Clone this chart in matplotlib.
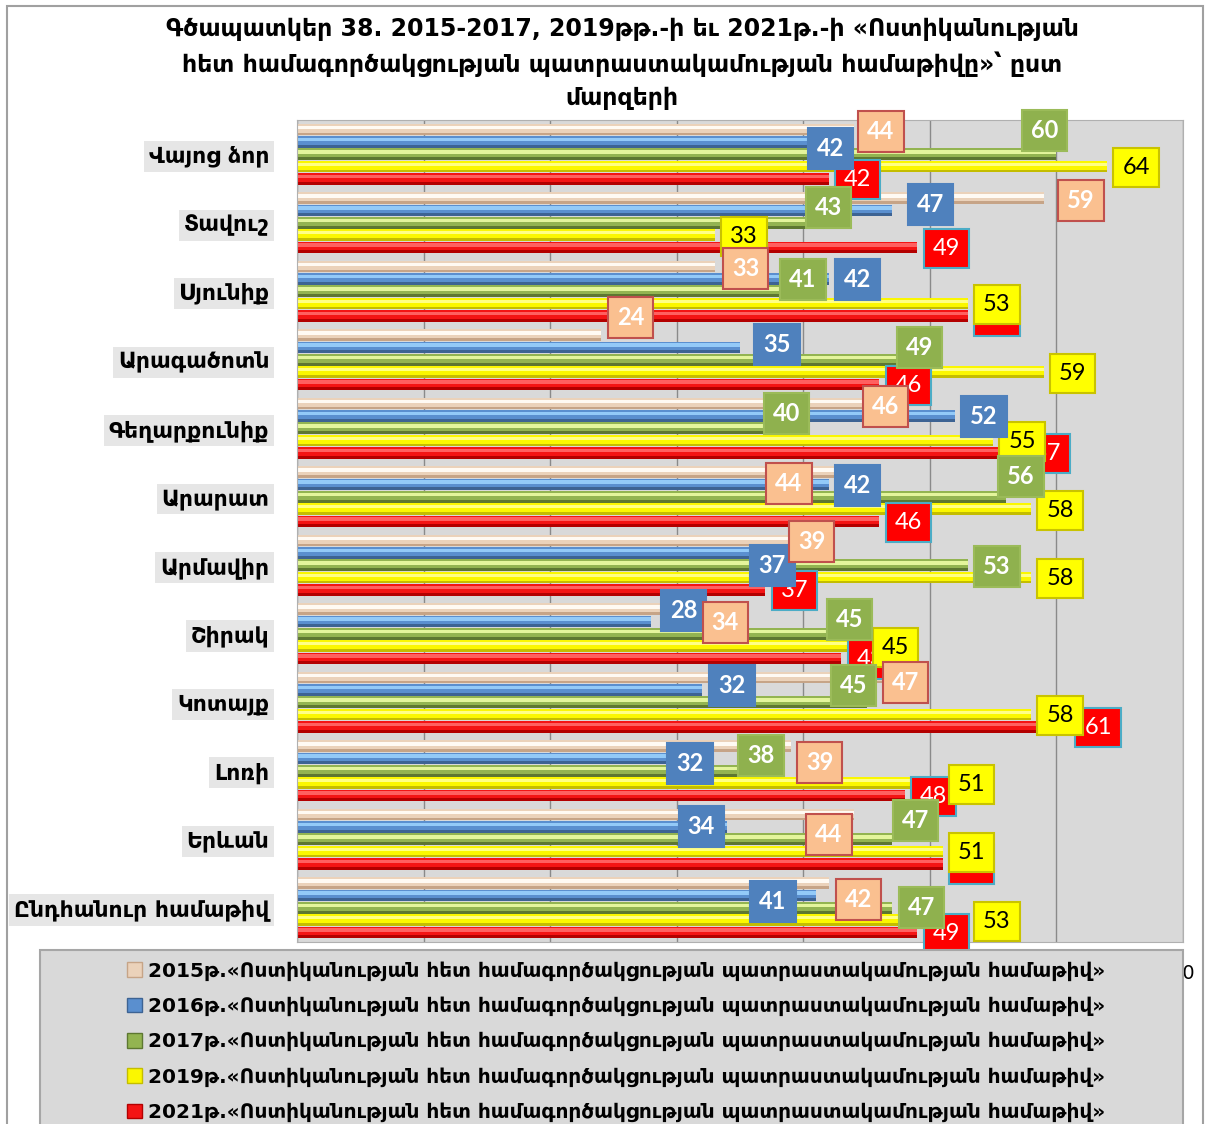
import matplotlib
matplotlib.use('Agg')
import matplotlib.pyplot as plt
from matplotlib.patches import Rectangle, Patch
import numpy as np

plt.rcParams['font.family'] = ['DejaVu Sans']

regions = ['Վայոց ձոր', 'Տավուշ', 'Սյունիք', 'Արագածոտն', 'Գեղարքունիք', 'Արարատ',
           'Արմավիր', 'Շիրակ', 'Կոտայք', 'Լոռի', 'Երևան', 'Ընդհանուր համաթիվ']
years = ['2015', '2016', '2017', '2019', '2021']

v2015 = [44, 59, 33, 24, 46, 44, 39, 34, 47, 39, 44, 42]
v2016 = [42, 47, 42, 35, 52, 42, 37, 28, 32, 32, 34, 41]
v2017 = [60, 43, 41, 49, 40, 56, 53, 45, 45, 38, 47, 47]
v2019 = [64, 33, 53, 59, 55, 58, 58, 45, 58, 51, 51, 53]
v2021 = [42, 49, 53, 46, 57, 46, 37, 43, 61, 48, 51, 49]
series = [v2015, v2016, v2017, v2019, v2021]

title_lines = ['Գծապատկեր 38. 2015-2017, 2019թթ.-ի եւ 2021թ.-ի «Ոստիկանության',
               'հետ համագործակցության պատրաստակամության համաթիվը»՝ ըստ',
               'մարզերի']
legend_text = 'թ.«Ոստիկանության հետ համագործակցության պատրաստակամության համաթիվ»'

# bevel colours per series: (shadow, body, highlight)
bar_colors = [('#c6a487', '#ebd2ba', '#fffaf3'),
              ('#3d6393', '#5a8fcf', '#93caf8'),
              ('#5d7731', '#93b451', '#e4f59c'),
              ('#c4bd00', '#fbf700', '#ffff86'),
              ('#b30000', '#f41414', '#ff6060')]
# value label boxes: (face, edge, text colour, weight)
label_style = [('#fac090', '#c0504d', 'white', 'bold'),
               ('#4f81bd', '#4f81bd', 'white', 'bold'),
               ('#8fb14e', '#9bbb59', 'white', 'bold'),
               ('#ffff00', '#c9c300', 'black', 'normal'),
               ('#ff0000', '#4bacc6', 'white', 'normal')]
label_z = [9, 8, 7, 6, 5]

# hand-moved value labels (pixels right / down from the bar end)
nudges = {(0, 0): (27, 2), (0, 1): (2, 7), (0, 2): (-12, -24),
          (1, 0): (37, 2), (1, 1): (39, -6), (1, 2): (-13, -15),
          (2, 0): (31, 2), (2, 2): (-13, -12),
          (3, 0): (30, -18), (3, 1): (37, -3), (3, 2): (2, -12),
          (4, 0): (6, 3), (4, 2): (-17, -15),
          (5, 0): (-65, 11), (5, 2): (15, -20),
          (6, 0): (21, 1), (6, 1): (7, 13),
          (7, 0): (-2, 13), (7, 1): (32, -11), (7, 2): (-17, -14),
          (8, 0): (14, 5), (8, 1): (30, -4), (8, 2): (-13, -17),
          (9, 0): (29, 16), (9, 1): (-12, 5), (9, 2): (-17, -15),
          (10, 0): (-25, 20), (10, 1): (-26, 0), (10, 2): (24, -19),
          (11, 0): (30, 16), (11, 1): (-43, 6), (11, 2): (30, 0)}

W, H = 1211, 1124
fig = plt.figure(figsize=(W / 100, H / 100), dpi=100)
ax = fig.add_axes([297 / W, 1 - 942 / H, 886 / W, 822 / H])
ax.set_facecolor('#d9d9d9')

y = np.arange(len(regions))
step = 0.18
h = 0.17
for s, vals in enumerate(series):
    yy = y + (s - 2) * step
    dark, body, light = bar_colors[s]
    ax.barh(yy, vals, height=h, color=dark, zorder=2)
    ax.barh(yy - h * 0.12, vals, height=h * 0.76, color=body, zorder=2)
    ax.barh(yy - h * 0.2, vals, height=h * 0.3, color=light, zorder=2)

    fc, ec, tc, wt = label_style[s]
    for g, v in enumerate(vals):
        dx, dy = nudges.get((g, s), (29, 1))
        ax.annotate(str(v), (v, yy[g]), xytext=(dx, -dy), textcoords='offset pixels',
                    ha='center', va='center', fontsize=17, color=tc, weight=wt,
                    family=['Lato', 'DejaVu Sans'], zorder=label_z[s],
                    bbox=dict(boxstyle='square,pad=0.38', fc=fc, ec=ec, lw=1.5))

ax.set_xlim(0, 70)
ax.set_ylim(len(regions) - 0.5, -0.5)
# only the end of the last tick label pokes out past the legend panel
ax.set_xticks(range(0, 71, 10), labels=[''] * 7 + ['70'])
ax.tick_params(axis='x', length=0, pad=16, labelsize=14)
ax.set_yticks(y)
ax.set_yticklabels(regions, fontsize=15.8, weight='bold')
ax.tick_params(axis='y', length=0, pad=20)
for lab in ax.get_yticklabels():
    lab.set_bbox(dict(fc='#e6e6e6', ec='none', pad=3.5))
ax.xaxis.grid(True, color='#8a8a8a', lw=1)
ax.set_axisbelow(True)
for sp in ax.spines.values():
    sp.set_color('#b0b0b0')

fig.text(622 / W, 1 - 17 / H, '\n'.join(title_lines), ha='center', va='top',
         fontsize=17, weight='bold', linespacing=1.5)

# outer chart border and legend panel
fig.add_artist(Rectangle((7 / W, -0.02), 1196 / W, 1.02 - 6 / H, transform=fig.transFigure,
                         fill=False, ec='#a0a0a0', lw=1.5, zorder=1))
fig.add_artist(Rectangle((40 / W, -0.05), 1143 / W, 0.05 + 1 - 950 / H, transform=fig.transFigure,
                         fc='#d9d9d9', ec='#a6a6a6', lw=1.5, zorder=1))

handles = [Patch(facecolor=c[1], edgecolor=c[0]) for c in bar_colors]
fig.legend(handles, [yr + legend_text for yr in years], loc='upper center',
           bbox_to_anchor=(616 / W, 1 - 951 / H), frameon=False,
           prop={'size': 14.5, 'weight': 'bold'}, handlelength=0.75, handleheight=0.75,
           handletextpad=0.3, labelspacing=0.78, borderpad=0).set_zorder(5)

fig.savefig('out.png', dpi=100)
